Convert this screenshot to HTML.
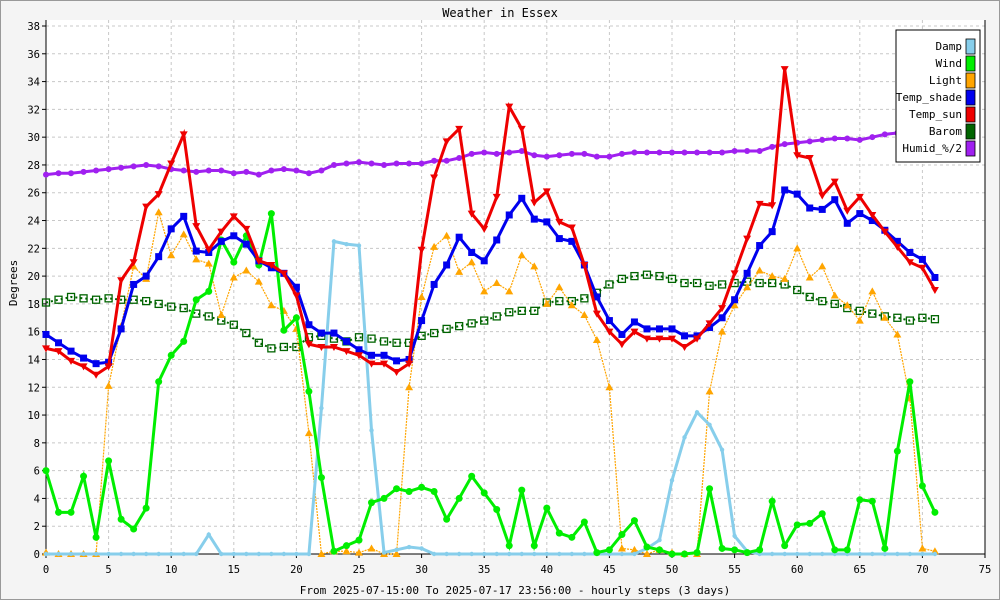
<!DOCTYPE html>
<html><head><meta charset="utf-8"><style>
html,body{margin:0;padding:0;background:#fff}
svg{display:block;font-family:"DejaVu Sans Mono","Liberation Mono",monospace}
</style></head><body>
<svg id="chart" width="1000" height="600" viewBox="0 0 1000 600">
<rect x="0.5" y="0.5" width="999" height="599" fill="#f4f4f4" stroke="#999"/>
<rect x="46" y="20" width="939" height="534" fill="#fff"/>
<text x="500" y="17" text-anchor="middle" font-size="12">Weather in Essex</text>
<text x="17" y="283" text-anchor="middle" font-size="11" transform="rotate(-90 17 283)">Degrees</text>
<text x="515" y="594" text-anchor="middle" font-size="11">From 2025-07-15:00 To 2025-07-17 23:56:00 - hourly steps (3 days)</text>
<g id="grid"></g><g id="series"></g><g id="legend"></g>
</svg>
<script>
const xTicks=[0,5,10,15,20,25,30,35,40,45,50,55,60,65,70,75];
const yTicks=[0,2,4,6,8,10,12,14,16,18,20,22,24,26,28,30,32,34,36,38];
const seriesNames=["Damp","Wind","Light","Temp_shade","Temp_sun","Barom","Humid_%/2"];
const damp=[0,0,0,0,0,0,0,0,0,0,0,0,0,1.4,0,0,0,0,0,0,0,0,10.5,22.5,22.3,22.2,8.9,0.1,0.3,0.5,0.4,0,0,0,0,0,0,0,0,0,0,0,0,0,0,0,0,0,0.4,1,5.3,8.4,10.2,9.3,7.5,1.3,0.2,0,0,0,0,0,0,0,0,0,0,0,0,0,0,0];
const wind=[6,3,3,5.6,1.2,6.7,2.5,1.8,3.3,12.4,14.3,15.3,18.3,18.9,22.6,21,22.9,20.8,24.5,16.1,17,11.7,5.5,0.2,0.6,1,3.7,4,4.7,4.5,4.8,4.5,2.5,4,5.6,4.4,3.2,0.6,4.6,0.6,3.3,1.5,1.2,2.3,0.1,0.3,1.4,2.4,0.5,0.3,0,0,0.1,4.7,0.4,0.3,0.1,0.3,3.8,0.6,2.1,2.2,2.9,0.3,0.3,3.9,3.8,0.4,7.4,12.4,4.9,3];
const light=[0.1,0,0,0,0,12.1,16.4,20.7,19.8,24.6,21.5,23,21.2,20.9,17.2,19.9,20.4,19.6,17.9,17.5,16.2,8.7,0,0.2,0.2,0.1,0.4,0,0,12,18.5,22.1,22.9,20.3,21,18.9,19.5,18.9,21.5,20.7,18,19.2,17.9,17.2,15.4,12,0.4,0.3,0,0.3,0.1,0,0,11.7,16,17.9,19.2,20.4,20,19.8,22,19.9,20.7,18.6,17.9,16.8,18.9,17,15.8,11.2,0.4,0.2];
const tempShade=[15.8,15.2,14.6,14.1,13.7,13.8,16.2,19.4,20,21.4,23.4,24.3,21.8,21.7,22.5,22.9,22.3,21.1,20.6,20.2,19.2,16.5,15.9,15.9,15.3,14.7,14.3,14.3,13.9,14,16.8,19.4,20.8,22.8,21.7,21.1,22.6,24.4,25.6,24.1,23.9,22.7,22.5,20.8,18.5,16.8,15.8,16.7,16.2,16.2,16.2,15.7,15.7,16.3,17,18.3,20.2,22.2,23.2,26.2,25.9,24.9,24.8,25.5,23.8,24.5,24,23.3,22.5,21.7,21.2,19.9];
const tempSun=[14.8,14.6,13.9,13.5,12.9,13.5,19.7,21,25,25.9,28.1,30.2,23.6,21.9,23.2,24.3,23.4,21.1,20.8,20.2,18.6,15.1,14.9,14.9,14.6,14.3,13.7,13.7,13.1,13.7,21.9,27.1,29.7,30.6,24.5,23.4,25.7,32.2,30.6,25.3,26.1,23.9,23.5,20.8,17.3,16,15.1,16,15.5,15.5,15.5,14.9,15.5,16.6,17.7,20.2,22.7,25.2,25.1,34.9,28.7,28.5,25.8,26.8,24.7,25.7,24.4,23.2,22.1,21,20.6,19];
const barom=[18.1,18.3,18.5,18.4,18.3,18.4,18.3,18.3,18.2,18,17.8,17.7,17.3,17.1,16.8,16.5,15.9,15.2,14.8,14.9,14.9,15.6,15.7,15.5,15.3,15.6,15.5,15.3,15.2,15.2,15.7,15.9,16.2,16.4,16.6,16.8,17.1,17.4,17.5,17.5,18.1,18.2,18.2,18.4,18.8,19.4,19.8,20,20.1,20,19.8,19.5,19.5,19.3,19.4,19.5,19.6,19.5,19.5,19.4,19,18.5,18.2,18,17.7,17.5,17.3,17.1,17,16.8,17,16.9];
const humid=[27.3,27.4,27.4,27.5,27.6,27.7,27.8,27.9,28,27.9,27.7,27.6,27.5,27.6,27.6,27.4,27.5,27.3,27.6,27.7,27.6,27.4,27.6,28,28.1,28.2,28.1,28,28.1,28.1,28.1,28.3,28.3,28.5,28.8,28.9,28.8,28.9,29,28.7,28.6,28.7,28.8,28.8,28.6,28.6,28.8,28.9,28.9,28.9,28.9,28.9,28.9,28.9,28.9,29,29,29,29.3,29.5,29.6,29.7,29.8,29.9,29.9,29.8,30,30.2,30.3,30.5,30.6,30.6];

const X0=46,X1=985,Y0=554,Y1=26;
const xs=v=>X0+(v-0)/75*(X1-X0);
const ys=v=>Y0-(v/38)*(Y0-Y1);
const NS="http://www.w3.org/2000/svg";
function mk(tag,attrs,parent){const e=document.createElementNS(NS,tag);for(const k in attrs)e.setAttribute(k,attrs[k]);parent.appendChild(e);return e;}
const grid=document.getElementById('grid');
yTicks.forEach(t=>{
  const y=ys(t);
  if(t>0){const l=mk('line',{x1:X0,x2:X1,y1:y,y2:y,stroke:'#c8c8c8','stroke-dasharray':'3,3'},grid);
  
  }
  mk('line',{x1:X0-4,x2:X0,y1:y,y2:y,stroke:'#000'},grid);
  const tx=mk('text',{x:X0-6,y:y+4,'text-anchor':'end','font-size':10.5},grid);tx.textContent=t;
  
  
});
xTicks.forEach(t=>{
  const x=xs(t);
  if(t>0&&t<75){const l=mk('line',{x1:x,x2:x,y1:20,y2:Y0,stroke:'#c8c8c8','stroke-dasharray':'3,3'},grid);
  
  }
  mk('line',{x1:x,x2:x,y1:Y0,y2:Y0+4,stroke:'#000'},grid);
  const tx=mk('text',{x:x,y:Y0+19,'text-anchor':'middle','font-size':10.5},grid);tx.textContent=t;
  
  
});
mk('line',{x1:X0,x2:X0,y1:20,y2:Y0,stroke:'#000'},grid);
mk('line',{x1:X0,x2:X1,y1:Y0,y2:Y0,stroke:'#000'},grid);
mk('line',{x1:X1,x2:X1,y1:20,y2:Y0,stroke:'#000'},grid);

const sg=document.getElementById('series');
function marker(g,type,x,y,c){
  if(type==='dot')mk('circle',{cx:x,cy:y,r:3.5,fill:c},g);
  else if(type==='sq')mk('rect',{x:x-3.5,y:y-3.5,width:7,height:7,fill:c},g);
  else if(type==='tri')mk('polygon',{points:`${x},${y-4} ${x-4},${y+3} ${x+4},${y+3}`,fill:c},g);
  else if(type==='itri')mk('polygon',{points:`${x},${y+4} ${x-4},${y-3} ${x+4},${y-3}`,fill:c},g);
  else if(type==='osq')mk('rect',{x:x-3.5,y:y-3.5,width:7,height:7,fill:'none',stroke:c,'stroke-width':1.3},g);
  else if(type==='star')mk('circle',{cx:x,cy:y,r:3,fill:c},g);
  else if(type==='small')mk('circle',{cx:x,cy:y,r:2.2,fill:c},g);
}
function draw(name,data,color,width,dash,mtype){
  const g=mk('g',{},sg);
  
  
  const pts=data.map((v,i)=>xs(i)+','+ys(v)).join(' ');
  const attrs={points:pts,fill:'none',stroke:color,'stroke-width':width};
  if(dash)attrs['stroke-dasharray']=dash;
  mk('polyline',attrs,g);
  data.forEach((v,i)=>marker(g,mtype,xs(i),ys(v),color));
}
draw('barom',barom,'#006400',2,'2,3','osq');
draw('light',light,'#ffa500',1.2,'2,1','tri');
draw('damp',damp,'#87ceeb',3,null,'small');
draw('wind',wind,'#00ee00',3,null,'dot');
draw('humid',humid,'#a020f0',3,null,'star');
draw('temp-shade',tempShade,'#0000ee',3,null,'sq');
draw('temp-sun',tempSun,'#ee0000',3,null,'itri');

const lg=document.getElementById('legend');
const legColors=['#87ceeb','#00ee00','#ffa500','#0000ee','#ee0000','#006400','#a020f0'];
const lb=mk('rect',{x:896,y:30,width:84,height:132,fill:'#fff',stroke:'#000'},lg);


seriesNames.forEach((n,i)=>{
  const y=46+i*17;
  const t=mk('text',{x:962,y:y+4,'text-anchor':'end','font-size':11},lg);t.textContent=n;
  
  
  mk('rect',{x:966,y:y-7,width:9,height:15,fill:legColors[i],stroke:'#000','stroke-width':0.8},lg);
});
</script>
</body></html>
